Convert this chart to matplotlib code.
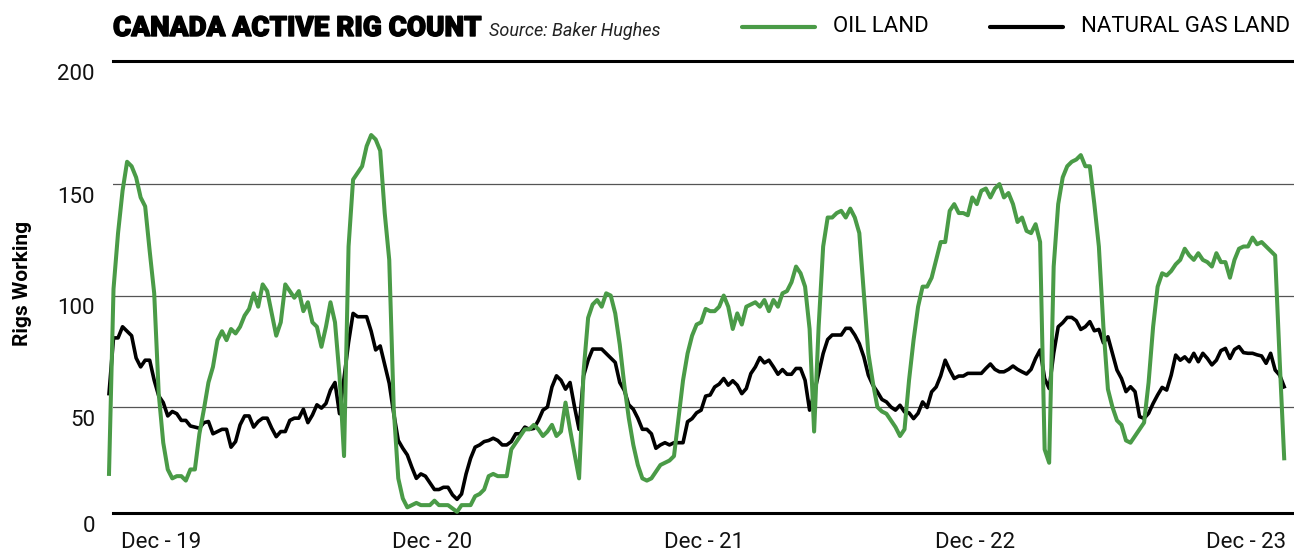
import numpy as np
import matplotlib
matplotlib.use("Agg")
import matplotlib.pyplot as plt
import matplotlib.patheffects as pe
from matplotlib.lines import Line2D

plt.rcParams['font.family'] = ['Roboto', 'DejaVu Sans']

# weekly active rigs, late Dec 2018 -> late Dec 2023 (Baker Hughes)
oil_land = [20, 103, 128, 147, 160, 158, 153, 144, 140, 120,
            101, 56, 34, 22, 18, 19, 19, 17, 22, 22,
            38, 49, 61, 68, 80, 84, 80, 85, 83, 86,
            91, 94, 101, 95, 105, 102, 92, 82, 88, 105,
            102, 99, 102, 93, 97, 88, 86, 77, 86, 97,
            88, 64, 28, 122, 152, 155, 158, 167, 172, 170,
            165, 137, 116, 49, 18, 9, 5, 6, 7, 6,
            6, 6, 8, 6, 6, 6, 4.5, 3, 6, 6,
            6, 10, 11, 13, 19, 20, 19, 19, 19, 31,
            34, 37, 40, 40, 42, 40, 37, 39, 42, 37,
            39, 52, 40, 29, 18, 66, 90, 96, 98, 95,
            101, 100, 92, 78, 60, 45, 33, 24, 18, 17,
            18, 21, 24, 25, 26, 28, 45, 62, 74, 82,
            87, 88, 94, 93, 93, 95, 100, 95, 85, 92,
            87, 95, 96, 97, 95, 98, 93, 98, 95, 101,
            102, 106, 113, 110, 104, 85, 39, 86, 122, 135,
            135, 137, 138, 135, 139, 135, 128, 101, 74, 61,
            50, 48, 47, 44, 41, 37, 40, 62, 80, 95,
            104, 104, 108, 116, 124, 124, 138, 141, 137, 137,
            136, 144, 141, 147, 148, 144, 148, 150, 144, 146,
            141, 133, 135, 129, 128, 132, 124, 31, 25, 113,
            141, 153, 158, 160, 161, 163, 158, 158, 141, 122,
            86, 58, 50, 44, 42, 35, 34, 37, 40, 43,
            61, 86, 104, 110, 109, 111, 114, 116, 121, 118,
            116, 119, 116, 115, 113, 119, 115, 115, 108, 116,
            121, 122, 122, 126, 123, 124, 122, 120, 118, 71,
            27]

gas_land = [56, 81, 81, 86, 84, 82, 72, 68, 71, 71,
            62, 55, 52, 46, 48, 47, 44, 44, 41.5, 41,
            40.5, 43, 43.5, 38, 39, 40, 40, 32, 34.5, 42,
            46, 46, 41, 43.5, 45, 45, 40.5, 36.7, 39, 39,
            44, 45, 45, 49, 43, 46.4, 51, 49.5, 51.6, 57.6,
            61, 47, 63, 79, 92, 90.5, 90.5, 90.5, 84, 75.6,
            77.4, 69, 60.6, 47, 35, 31.5, 28.5, 23, 18, 20,
            19, 16, 13, 13, 14, 14, 10.6, 8.6, 11, 20,
            27, 32, 33, 34.5, 35, 36, 35, 33, 33, 34.5,
            38, 38, 41, 40, 40.4, 44, 48.6, 50, 59, 64,
            62, 58, 61, 50, 40, 64, 71, 76, 76, 76,
            74, 72, 70, 61, 57.5, 51, 49, 45, 40, 40,
            38, 31.5, 33, 34, 33, 34, 34, 34, 43.4, 44.8,
            47.4, 48.6, 54.9, 55.4, 59, 60.3, 62.8, 59.8, 61.8, 59.8,
            56, 58.3, 65, 68, 72.2, 69.8, 71, 68, 64.7, 66.8,
            64.7, 64.7, 67.3, 67.3, 62, 48.6, 56, 65, 74, 80.3,
            82.3, 82.3, 82.3, 85.3, 85.3, 82.3, 78.4, 72.5, 64.3, 59.8,
            56.8, 53.4, 52.3, 50, 48.6, 50.8, 47.8, 47.4, 44.8, 47.2,
            52.3, 49.8, 56.8, 59, 64, 71, 66.6, 62.8, 63.9, 63.9,
            65.1, 65.1, 65.1, 65.1, 67.3, 69.3, 66.9, 65.8, 65.8, 66.9,
            68.4, 66.9, 65.8, 64.8, 66.9, 71.8, 75.6, 62.8, 58.3, 74.1,
            86, 87.8, 90.2, 90.2, 88.7, 84.8, 86, 88.3, 84.2, 84.8,
            78.8, 81.5, 74.1, 66.6, 62.8, 56.9, 59.1, 56.9, 45.7, 44.9,
            47.2, 51.6, 55.4, 58.8, 57.6, 64.3, 73.3, 71, 72.5, 70.3,
            74.1, 70.3, 74.1, 71.8, 68.9, 71, 75.3, 76.3, 71.8, 75.8,
            77.1, 74.4, 74.1, 74.1, 73.4, 72.9, 69.6, 74.1, 66.6, 64.3,
            59.1]

x_labels = ['Dec - 19', 'Dec - 20', 'Dec - 21', 'Dec - 22', 'Dec - 23']
x_label_pos = [11.6, 71.5, 131.6, 191.7, 251.5]
y_labels = ['0', '50', '100', '150', '200']

GREEN = '#4a9b47'
W, H = 1294, 554

fig = plt.figure(figsize=(W / 100, H / 100), dpi=100)
ax = fig.add_axes([113 / W, 1 - 513 / H, (W - 113) / W, (513 - 61) / H])

weeks = np.arange(len(oil_land))
ax.plot(weeks, gas_land, color='black', lw=2.6, clip_on=False,
        solid_joinstyle='round', zorder=3)
ax.plot(weeks, oil_land, color=GREEN, lw=2.9, clip_on=False,
        solid_joinstyle='round', zorder=4)

ylo, yhi = 2.47, 205.2
ax.set_xlim(0.885, 262.17)
ax.set_ylim(ylo, yhi)

for v in (50, 100, 150):
    ax.axhline(v, color='#555555', lw=0.9, zorder=1)

for s in ('left', 'right'):
    ax.spines[s].set_visible(False)
for s in ('top', 'bottom'):
    ax.spines[s].set_linewidth(2.2)
    ax.spines[s].set_color('black')

ax.set_yticks([])
for lab, v in zip(y_labels, [ylo, 50, 100, 150, yhi]):
    ax.annotate(lab, xy=(0, v), xycoords=('axes fraction', 'data'),
                xytext=(-13, -2), textcoords='offset points',
                ha='right', va='top', fontsize=16, color='#111111')

ax.set_xticks(x_label_pos)
ax.set_xticklabels(x_labels, fontsize=16, color='#111111')
ax.tick_params(axis='x', length=0, pad=14)

fig.text(23 / W, 1 - 283 / H, 'Rigs Working', rotation=90, ha='center',
         va='center', fontsize=15, fontweight='bold')

# title + source
title = fig.text(113 / W, 1 - 36 / H, 'CANADA ACTIVE RIG COUNT', fontsize=20,
                 fontweight='black', va='baseline',
                 path_effects=[pe.withStroke(linewidth=1.0, foreground='black')])
r = fig.canvas.get_renderer()
bb = title.get_window_extent(renderer=r)
fig.text((bb.x1 + 8) / W, 1 - 36 / H, 'Source: Baker Hughes', fontsize=13,
         style='italic', va='baseline', color='#222222')

# legend
fig.add_artist(Line2D([742 / W, 815 / W], [1 - 27 / H] * 2, color=GREEN, lw=3,
                      solid_capstyle='round', transform=fig.transFigure))
fig.text(833 / W, 1 - 26 / H, 'OIL LAND', fontsize=16, va='center')
fig.add_artist(Line2D([990 / W, 1063 / W], [1 - 27 / H] * 2, color='black', lw=3,
                      solid_capstyle='round', transform=fig.transFigure))
fig.text(1081 / W, 1 - 26 / H, 'NATURAL GAS LAND', fontsize=16, va='center')

fig.savefig('out.png', dpi=100)
